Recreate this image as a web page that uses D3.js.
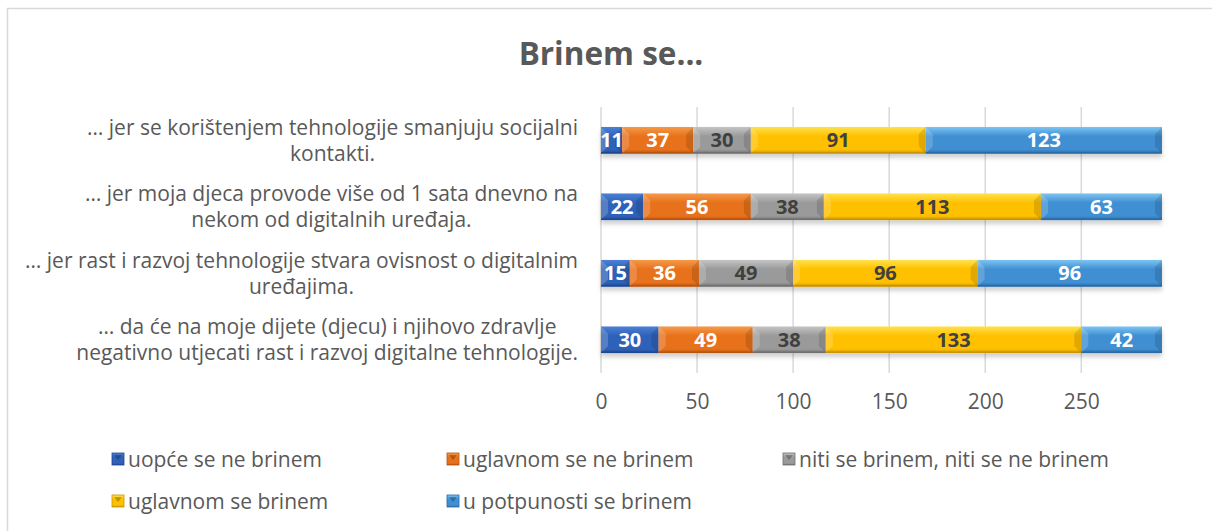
<!DOCTYPE html>
<html>
<head>
<meta charset="utf-8">
<script src="https://cdn.jsdelivr.net/npm/d3@7"></script>
<style>
  body { margin: 0; background: #fff; }
  svg { display: block; }
</style>
</head>
<body>
<div id="chart"></div>
<script>
// Data
const categories = [
    ["… jer se korištenjem tehnologije smanjuju socijalni", "kontakti."],
    ["… jer moja djeca provode više od 1 sata dnevno na", "nekom od digitalnih uređaja."],
    ["… jer rast i razvoj tehnologije stvara ovisnost o digitalnim", "uređajima."],
    ["… da će na moje dijete (djecu) i njihovo zdravlje", "negativno utjecati rast i razvoj digitalne tehnologije."]
];
const seriesNames = ["uopće se ne brinem", "uglavnom se ne brinem", "niti se brinem, niti se ne brinem",
    "uglavnom se brinem", "u potpunosti se brinem"];
const uopce = [11, 22, 15, 30];
const uglavnomNe = [37, 56, 36, 49];
const niti = [30, 38, 49, 38];
const uglavnomDa = [91, 113, 96, 133];
const potpuno = [123, 63, 96, 42];
const xTicks = [0, 50, 100, 150, 200, 250];

const seriesValues = [uopce, uglavnomNe, niti, uglavnomDa, potpuno];
const colors = [
    { top: "#4a80d6", mid: "#2f62b8", bot: "#1f4a94", label: "#fff" },
    { top: "#f59a4a", mid: "#e8711b", bot: "#b85510", label: "#fff" },
    { top: "#c4c4c4", mid: "#9a9a9a", bot: "#707070", label: "#404040" },
    { top: "#ffe14d", mid: "#ffc000", bot: "#c89400", label: "#404040" },
    { top: "#7cc4f2", mid: "#3f8fd2", bot: "#2c6aa6", label: "#fff" }
];

const W = 1212, H = 531;
const svg = d3.select("#chart").append("svg").attr("width", W).attr("height", H);
const font = "'Open Sans', sans-serif";

// Frame
svg.append("path")
    .attr("d", `M7.5,${H} V8.5 H${W}`)
    .attr("fill", "none").attr("stroke", "#d9d9d9").attr("stroke-width", 1.5);

const defs = svg.append("defs");
colors.forEach((c, i) => {
    const g = defs.append("linearGradient").attr("id", "grad" + i)
        .attr("x1", 0).attr("y1", 0).attr("x2", 0).attr("y2", 1);
    g.append("stop").attr("offset", "0%").attr("stop-color", c.top);
    g.append("stop").attr("offset", "35%").attr("stop-color", c.mid);
    g.append("stop").attr("offset", "85%").attr("stop-color", c.mid);
    g.append("stop").attr("offset", "100%").attr("stop-color", c.bot);
});
const shadow = defs.append("filter").attr("id", "shadow")
    .attr("x", "-5%").attr("y", "-20%").attr("width", "110%").attr("height", "160%");
shadow.append("feDropShadow").attr("dx", 0).attr("dy", 4).attr("stdDeviation", 2)
    .attr("flood-color", "#000").attr("flood-opacity", 0.18);

// Title
svg.append("text")
    .attr("x", 611).attr("y", 65)
    .attr("text-anchor", "middle")
    .attr("font-family", font).attr("font-weight", "bold").attr("font-size", 31.5)
    .attr("fill", "#595959")
    .text("Brinem se...");

// Scales
const x = d3.scaleLinear().domain([0, 292]).range([601, 1162]);
const y = d3.scaleBand().domain(d3.range(categories.length)).range([107, 373]).paddingInner(0.6).paddingOuter(0.3);

// Grid
svg.append("g").selectAll("line")
    .data(xTicks).enter().append("line")
    .attr("x1", d => x(d)).attr("x2", d => x(d))
    .attr("y1", 107).attr("y2", 373)
    .attr("stroke", "#d9d9d9").attr("stroke-width", 1.5);

// Axis labels
const axis = svg.append("g")
    .attr("transform", "translate(0,394)")
    .call(d3.axisBottom(x).tickValues(xTicks).tickSize(0).tickPadding(0));
axis.select(".domain").remove();
axis.selectAll("text")
    .attr("font-family", font).attr("font-size", 21).attr("fill", "#595959")
    .attr("dy", "0.71em");

// Stack
const rows = categories.map((c, i) => {
    let acc = 0;
    return seriesValues.map((s, k) => {
        const seg = { row: i, k, x0: acc, x1: acc + s[i], v: s[i] };
        acc += s[i];
        return seg;
    });
});

const bh = y.bandwidth();
const barG = svg.append("g");
rows.forEach(row => {
    const g = barG.append("g").attr("filter", "url(#shadow)");
    row.forEach(seg => {
        const x0 = x(seg.x0), x1 = x(seg.x1), y0 = y(seg.row);
        g.append("rect")
            .attr("x", x0).attr("y", y0)
            .attr("width", x1 - x0).attr("height", bh)
            .attr("fill", `url(#grad${seg.k})`);
        // bevel ends
        const b = Math.min(7, (x1 - x0) / 3);
        g.append("path")
            .attr("d", `M${x0},${y0} L${x0 + b},${y0 + b} L${x0 + b},${y0 + bh - b} L${x0},${y0 + bh}Z`)
            .attr("fill", "#fff").attr("opacity", 0.18);
        g.append("path")
            .attr("d", `M${x1},${y0} L${x1 - b},${y0 + b} L${x1 - b},${y0 + bh - b} L${x1},${y0 + bh}Z`)
            .attr("fill", "#000").attr("opacity", 0.12);
        g.append("rect")
            .attr("x", x0).attr("y", y0 + bh - 1.5)
            .attr("width", x1 - x0).attr("height", 1.5)
            .attr("fill", colors[seg.k].bot);
    });
});

// Segment labels
rows.forEach(row => {
    row.forEach(seg => {
        svg.append("text")
            .attr("x", (x(seg.x0) + x(seg.x1)) / 2)
            .attr("y", y(seg.row) + bh / 2)
            .attr("dy", "0.36em")
            .attr("text-anchor", "middle")
            .attr("font-family", font).attr("font-weight", "bold").attr("font-size", 20)
            .attr("fill", colors[seg.k].label)
            .text(seg.v);
    });
});

// Category labels
const catG = svg.append("g");
categories.forEach((lines, i) => {
    const t = catG.append("text")
        .attr("font-family", font).attr("font-size", 21).attr("fill", "#595959")
        .attr("text-anchor", "middle");
    const cy = y(i) + bh / 2;
    const spans = lines.map((l, j) => t.append("tspan")
        .attr("y", cy + (j - (lines.length - 1) / 2) * 26)
        .attr("dy", "0.36em")
        .text(l));
    const maxW = d3.max(spans, s => s.node().getComputedTextLength());
    spans.forEach(s => s.attr("x", 578 - maxW / 2));
});

// Legend
const legendPos = [[112, 459], [447, 459], [783, 459], [112, 501], [447, 501]];
seriesNames.forEach((name, k) => {
    const [lx, ly] = legendPos[k];
    const g = svg.append("g").attr("transform", `translate(${lx},${ly})`);
    g.append("rect").attr("x", 0).attr("y", -6).attr("width", 12).attr("height", 12)
        .attr("fill", `url(#grad${k})`).attr("stroke", colors[k].bot).attr("stroke-width", 0.8);
    g.append("path").attr("d", "M2,-4 L10,-4 L6,1Z").attr("fill", "#000").attr("opacity", 0.25);
    g.append("text").attr("x", 16).attr("y", 0).attr("dy", "0.36em")
        .attr("font-family", font).attr("font-size", 21).attr("fill", "#595959")
        .text(name);
});
</script>
</body>
</html>
